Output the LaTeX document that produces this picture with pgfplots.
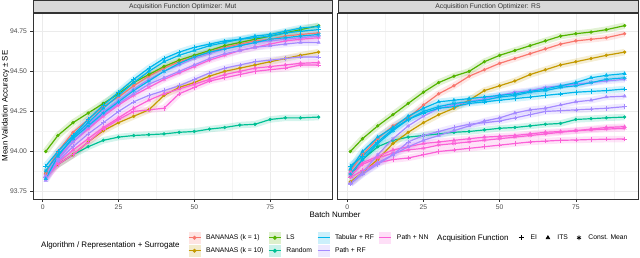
\documentclass[border=0pt]{standalone}
\usepackage{pgfplots}
\pgfplotsset{compat=1.18}
\usepackage{pgfplotstable}
\usepackage{fontspec}
\setmainfont{Liberation Sans}
\definecolor{cA}{HTML}{F8766D}
\definecolor{cB}{HTML}{C49A00}
\definecolor{cC}{HTML}{53B400}
\definecolor{cD}{HTML}{00C094}
\definecolor{cE}{HTML}{00B6EB}
\definecolor{cF}{HTML}{A58AFF}
\definecolor{cG}{HTML}{FB61D7}
\definecolor{g20}{HTML}{333333}
\definecolor{g30}{HTML}{4D4D4D}
\definecolor{g85}{HTML}{D9D9D9}
\definecolor{g92}{HTML}{EBEBEB}
\definecolor{g95}{HTML}{F4F4F4}

\pgfplotstableread{
x bk1 bk10 ls rnd trfei trfits trfcm prfei prfits prfcm pnnei pnnits pnncm
1 93.87 93.86 94.00 93.87 93.91 93.83 93.88 93.84 93.82 93.85 93.84 93.83 93.85
5 94.00 93.92 94.10 93.92 94.00 93.97 93.98 93.94 93.95 93.97 93.92 93.93 93.96
10 94.12 93.98 94.18 93.98 94.10 94.09 94.08 94.03 94.06 94.08 93.98 94.01 94.06
15 94.20 94.06 94.24 94.03 94.20 94.18 94.16 94.11 94.15 94.17 94.06 94.08 94.14
20 94.28 94.13 94.30 94.07 94.29 94.27 94.24 94.18 94.23 94.25 94.14 94.15 94.22
25 94.34 94.18 94.36 94.09 94.37 94.35 94.31 94.25 94.30 94.32 94.20 94.21 94.29
30 94.41 94.22 94.43 94.10 94.45 94.43 94.38 94.31 94.36 94.39 94.25 94.27 94.35
35 94.47 94.26 94.48 94.105 94.52 94.50 94.44 94.35 94.42 94.45 94.26 94.32 94.40
40 94.52 94.35 94.53 94.11 94.58 94.56 94.50 94.38 94.46 94.50 94.27 94.36 94.45
45 94.56 94.40 94.57 94.12 94.62 94.60 94.55 94.41 94.50 94.54 94.36 94.39 94.49
50 94.59 94.43 94.60 94.125 94.65 94.63 94.59 94.45 94.54 94.58 94.40 94.42 94.53
55 94.62 94.47 94.63 94.14 94.67 94.66 94.62 94.49 94.58 94.61 94.44 94.45 94.57
60 94.65 94.50 94.66 94.15 94.69 94.68 94.64 94.52 94.61 94.64 94.46 94.48 94.60
65 94.67 94.52 94.68 94.165 94.70 94.70 94.66 94.54 94.63 94.66 94.48 94.50 94.63
70 94.69 94.54 94.70 94.17 94.71 94.72 94.68 94.56 94.65 94.68 94.50 94.52 94.65
75 94.70 94.56 94.72 94.20 94.72 94.73 94.70 94.57 94.66 94.69 94.51 94.53 94.67
80 94.72 94.58 94.74 94.21 94.74 94.75 94.71 94.58 94.67 94.70 94.52 94.54 94.69
85 94.73 94.60 94.76 94.21 94.75 94.77 94.72 94.59 94.68 94.71 94.54 94.55 94.70
91 94.74 94.62 94.785 94.215 94.76 94.78 94.73 94.59 94.68 94.72 94.54 94.555 94.71
}\mut

\pgfplotstableread{
x bk1 bk10 ls rnd trfei trfits trfcm prfei prfits prfcm pnnei pnnits pnncm
1 93.88 93.81 94.00 93.84 93.91 93.89 93.86 93.80 93.80 93.80 93.84 93.87 93.85
5 93.98 93.87 94.08 93.95 93.97 94.00 93.95 93.86 93.86 93.87 93.88 93.93 93.92
10 94.08 93.95 94.16 94.03 94.06 94.09 94.05 93.92 93.93 93.98 93.93 93.97 93.96
15 94.16 94.05 94.23 94.07 94.14 94.15 94.13 93.98 93.98 94.08 93.95 94.01 93.99
20 94.21 94.12 94.30 94.09 94.20 94.22 94.20 94.06 94.03 94.16 93.96 94.03 94.01
25 94.29 94.18 94.37 94.10 94.24 94.27 94.25 94.10 94.07 94.22 93.98 94.05 94.02
30 94.36 94.23 94.43 94.11 94.27 94.31 94.28 94.125 94.10 94.27 94.00 94.06 94.04
35 94.41 94.27 94.47 94.12 94.28 94.32 94.30 94.15 94.13 94.29 94.01 94.07 94.05
40 94.47 94.32 94.50 94.125 94.30 94.33 94.31 94.17 94.16 94.31 94.02 94.08 94.06
45 94.51 94.38 94.56 94.135 94.31 94.34 94.32 94.18 94.19 94.33 94.03 94.09 94.07
50 94.55 94.41 94.60 94.145 94.32 94.35 94.34 94.19 94.21 94.35 94.04 94.095 94.08
55 94.58 94.44 94.63 94.15 94.33 94.36 94.35 94.21 94.24 94.37 94.05 94.10 94.09
60 94.61 94.48 94.66 94.16 94.34 94.375 94.37 94.23 94.26 94.38 94.06 94.11 94.10
65 94.64 94.51 94.69 94.17 94.35 94.39 94.38 94.25 94.27 94.40 94.065 94.12 94.11
70 94.67 94.54 94.72 94.175 94.36 94.41 94.40 94.255 94.29 94.41 94.07 94.125 94.12
75 94.69 94.56 94.735 94.20 94.37 94.43 94.41 94.26 94.31 94.42 94.072 94.13 94.13
80 94.70 94.58 94.745 94.205 94.375 94.46 94.43 94.265 94.32 94.43 94.075 94.14 94.135
85 94.71 94.60 94.76 94.21 94.38 94.475 94.45 94.27 94.34 94.44 94.077 94.15 94.14
91 94.735 94.62 94.785 94.215 94.39 94.486 94.46 94.28 94.345 94.45 94.078 94.155 94.145
}\rs

\newcommand{\rib}[3]{\addplot[draw=#3, line width=6.5bp, draw opacity=0.17, no markers] table[x=x,y=#2]{#1};}
\newcommand{\lin}[5]{\addplot[color=#3, line width=1.2bp, mark=#4, mark size=#5, mark options={solid, line width=0.6bp, fill=#3}] table[x=x,y=#2]{#1};}
\newcommand{\allseries}[1]{%
 \rib{#1}{bk1}{cA}\rib{#1}{bk10}{cB}\rib{#1}{ls}{cC}\rib{#1}{rnd}{cD}%
 \rib{#1}{trfei}{cE}\rib{#1}{trfits}{cE}\rib{#1}{trfcm}{cE}%
 \rib{#1}{prfei}{cF}\rib{#1}{prfits}{cF}\rib{#1}{prfcm}{cF}%
 \rib{#1}{pnnei}{cG}\rib{#1}{pnnits}{cG}\rib{#1}{pnncm}{cG}%
 \lin{#1}{rnd}{cD}{*}{1.4bp}\lin{#1}{bk10}{cB}{*}{1.4bp}\lin{#1}{bk1}{cA}{*}{1.4bp}\lin{#1}{ls}{cC}{*}{1.4bp}%
 \lin{#1}{pnnei}{cG}{+}{2.3bp}\lin{#1}{pnnits}{cG}{triangle*}{1.8bp}\lin{#1}{pnncm}{cG}{asterisk}{2.1bp}%
 \lin{#1}{prfei}{cF}{+}{2.3bp}\lin{#1}{prfits}{cF}{triangle*}{1.8bp}\lin{#1}{prfcm}{cF}{asterisk}{2.1bp}%
 \lin{#1}{trfei}{cE}{+}{2.3bp}\lin{#1}{trfits}{cE}{triangle*}{1.8bp}\lin{#1}{trfcm}{cE}{asterisk}{2.1bp}%
}

\pgfplotsset{panel/.style={
  anchor=south west, scale only axis, height=186bp,
  xmin=-3.2, xmax=95.4, ymin=93.704, ymax=94.864,
  xtick={0,25,50,75}, minor xtick={12.5,37.5,62.5,87.5},
  xticklabels={0,25,50,75},
  ytick={93.75,94,94.25,94.5,94.75}, minor ytick={93.875,94.125,94.375,94.625},
  grid=both,
  major grid style={draw=g92, line width=0.55bp},
  minor grid style={draw=g95, line width=0.3bp},
  axis line style={draw=g20, line width=0.5bp},
  xtick pos=bottom, ytick pos=left,
  tick align=outside, major tick length=2.5bp, minor tick length=0bp,
  major tick style={draw=g20, line width=0.5bp},
  ticklabel style={font=\fontsize{6.8}{7}\selectfont, text=g30},
  /pgf/number format/assume math mode=true,
}}

\begin{document}
\begin{tikzpicture}
\path[use as bounding box] (0,0) rectangle (640bp,258bp);

\begin{axis}[panel, at={(33bp,59bp)}, width=299bp,
  yticklabels={93.75,94.00,94.25,94.50,94.75},
  ylabel={Mean Validation Accuracy ± SE},
  ylabel style={font=\fontsize{8}{9}\selectfont, at={(axis description cs:-0.092,0.5)}, anchor=center}]
\allseries{\mut}
\end{axis}

\begin{axis}[panel, at={(337.5bp,59bp)}, width=300.5bp,
  yticklabels={}, ytick style={draw=none}]
\allseries{\rs}
\end{axis}

\node[fill=g85, draw=g20, line width=0.5bp, minimum width=299bp, minimum height=12.5bp, inner sep=0pt, anchor=south west, font=\fontsize{6.8}{7}\selectfont, text=g20] at (33bp,245bp) {Acquisition Function Optimizer: Mut};
\node[fill=g85, draw=g20, line width=0.5bp, minimum width=300.5bp, minimum height=12.5bp, inner sep=0pt, anchor=south west, font=\fontsize{6.8}{7}\selectfont, text=g20] at (337.5bp,245bp) {Acquisition Function Optimizer: RS};

\node[font=\fontsize{8}{9}\selectfont] at (335bp,43bp) {Batch Number};

\node[anchor=west, inner sep=0pt, font=\fontsize{8}{9}\selectfont] at (41bp,13bp) {Algorithm / Representation + Surrogate};
\node[anchor=west, inner sep=0pt, font=\fontsize{8}{9}\selectfont] at (437bp,20bp) {Acquisition Function};

\begin{axis}[at={(0,0)}, anchor=south west, scale only axis, width=640bp, height=258bp,
  hide axis, xmin=0, xmax=1, ymin=0, ymax=1,
  legend columns=4, legend cell align=left,
  legend style={at={(0.29375,0.1019)}, anchor=north west, draw=none, fill=none,
    inner sep=0pt, outer sep=0pt, row sep=1bp, font=\fontsize{6.8}{7}\selectfont,
    nodes={inner sep=0pt},
    /tikz/every odd column/.append style={column sep=5bp},
    /tikz/every even column/.append style={column sep=5bp}},
  legend image code/.code={%
    \fill[fill opacity=0.2, draw=none] (0bp,-6bp) rectangle (12bp,6bp);
    \draw[line width=1bp, mark repeat=2, mark phase=2, mark size=1.5bp, mark options={solid}] plot coordinates {(0bp,0bp) (6bp,0bp) (12bp,0bp)};}]
\addlegendimage{color=cA, mark=*}\addlegendentry{BANANAS (k = 1)}
\addlegendimage{color=cC, mark=*}\addlegendentry{LS}
\addlegendimage{color=cE}\addlegendentry{Tabular + RF}
\addlegendimage{color=cG}\addlegendentry{Path + NN}
\addlegendimage{color=cB, mark=*}\addlegendentry{BANANAS (k = 10)}
\addlegendimage{color=cD, mark=*}\addlegendentry{Random}
\addlegendimage{color=cF}\addlegendentry{Path + RF}
\addlegendimage{empty legend}\addlegendentry{}
\end{axis}

\begin{axis}[at={(0,0)}, anchor=south west, scale only axis, width=640bp, height=258bp,
  hide axis, xmin=0, xmax=1, ymin=0, ymax=1,
  legend columns=3, legend cell align=left,
  legend style={at={(0.8047,0.1019)}, anchor=north west, draw=none, fill=none,
    inner sep=0pt, outer sep=0pt, font=\fontsize{6.8}{7}\selectfont,
    nodes={inner sep=0pt},
    /tikz/every odd column/.append style={column sep=3.5bp},
    /tikz/every even column/.append style={column sep=5bp}},
  legend image code/.code={%
    \path[draw=none, fill=none] (0bp,-6bp) rectangle (12bp,6bp);
    \draw[draw=none, mark repeat=2, mark phase=2, mark options={solid, draw=black, line width=0.7bp}] plot coordinates {(0bp,0bp) (6bp,0bp) (12bp,0bp)};}]
\addlegendimage{black, mark=+, mark size=2.5bp}\addlegendentry{EI}
\addlegendimage{black, mark=triangle*, mark size=2bp}\addlegendentry{ITS}
\addlegendimage{black, mark=asterisk, mark size=2.3bp}\addlegendentry{Const. Mean}
\end{axis}
\end{tikzpicture}
\end{document}
